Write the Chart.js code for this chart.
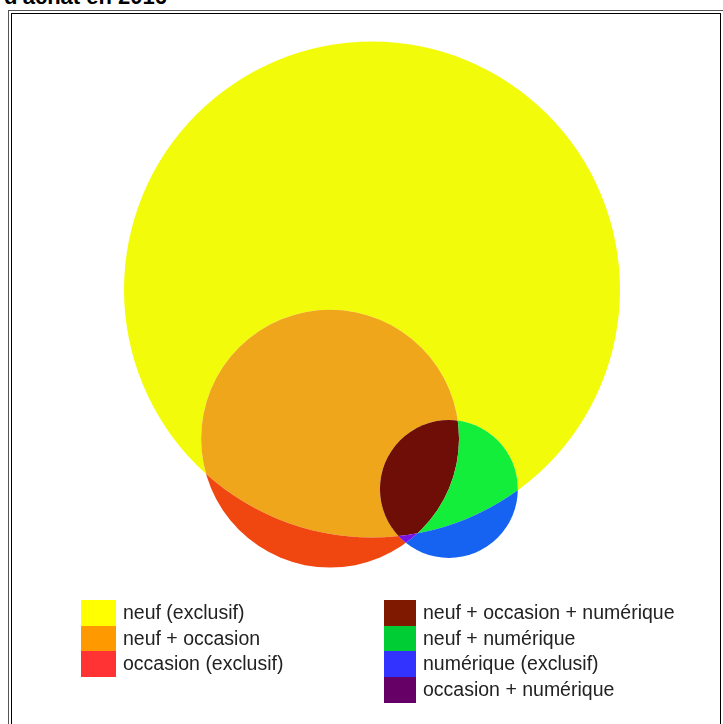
<!DOCTYPE html>
<html>
<head>
<meta charset="utf-8">
<script src="https://cdn.jsdelivr.net/npm/chart.js@4"></script>
<style>
  body { margin: 0; width: 723px; height: 724px; overflow: hidden; background: #fff; position: relative; font-family: "Liberation Sans", Arial, sans-serif; }
  #title { position: absolute; left: 4px; top: -14px; font-weight: bold; font-size: 22px; line-height: 22px; color: #000; white-space: nowrap; }
  #frame1 { position: absolute; left: 8px; top: 10px; width: 716px; height: 720px; border: 1px solid #555; }
  #frame2 { position: absolute; left: 11px; top: 13px; width: 708px; height: 720px; border: 1px solid #000; }
  #wrap { position: absolute; left: 0; top: -8px; width: 744px; height: 744px; }
  .leg { position: absolute; font-size: 19.5px; color: #222; }
  .leg div { height: 25.7px; line-height: 25.7px; white-space: nowrap; }
  .leg span { display: inline-block; height: 25.7px; vertical-align: top; margin-right: 7px; }
  #leg1 span { width: 35px; }
  #leg2 span { width: 32px; }
</style>
</head>
<body>
<div id="title">d'achat en 2016</div>
<div id="frame1"></div>
<div id="frame2"></div>
<div id="wrap"><canvas id="venn"></canvas></div>
<div class="leg" id="leg1" style="left:81px; top:600px;"></div>
<div class="leg" id="leg2" style="left:384px; top:600px;"></div>
<script>
// the three sets: centre and radius in chart units (neuf radius = 100)
let setNames = ['neuf', 'occasion', 'numérique']
let centerX = [0, -16.9, 31.0]
let centerY = [0, -60.1, -80.4]
let setRadius = [100, 52, 27.8]

// the seven regions: which sets they are in (1) or out of (0)
let regionLabels = ['neuf (exclusif)', 'neuf + occasion', 'occasion (exclusif)',
    'neuf + occasion + numérique', 'neuf + numérique', 'numérique (exclusif)', 'occasion + numérique']
let regionMembers = [[1,0,0], [1,1,0], [0,1,0], [1,1,1], [1,0,1], [0,0,1], [0,1,1]]
let regionFill = ['#f2fc0a', '#f0a61a', '#f0460f', '#6e0e06', '#12ee3a', '#1663f2', '#7614e6']
let legendColors = ['#ffff00', '#ff9900', '#ff3333', '#7f1a00', '#00cc33', '#3333ff', '#660066']
let legendColumn = [0, 0, 0, 1, 1, 1, 1]

// radius in pixels
function pxRadius(chart, i) {
    let xs = chart.scales.x
    return Math.abs(xs.getPixelForValue(centerX[i] + setRadius[i]) - xs.getPixelForValue(centerX[i]))
}

// draws each region by clipping inside / outside of the circles
let vennRegions = {
    id: 'vennRegions',
    afterDatasetsDraw(chart) {
        let ctx = chart.ctx
        let pts = chart.getDatasetMeta(0).data
        let area = chart.chartArea
        regionMembers.forEach(function(members, r) {
            ctx.save()
            members.forEach(function(inside, i) {
                let rad = pxRadius(chart, i)
                ctx.beginPath()
                if (inside) {
                    ctx.arc(pts[i].x, pts[i].y, rad, 0, Math.PI * 2)
                    ctx.clip()
                } else {
                    ctx.rect(area.left, area.top, area.right - area.left, area.bottom - area.top)
                    ctx.arc(pts[i].x, pts[i].y, rad, 0, Math.PI * 2, true)
                    ctx.clip('evenodd')
                }
            })
            ctx.fillStyle = regionFill[r]
            ctx.fillRect(area.left, area.top, area.right - area.left, area.bottom - area.top)
            ctx.restore()
        })
    }
}

let vennChart = new Chart(document.getElementById('venn'), {
    type: 'bubble',
    data: {
        labels: setNames,
        datasets: [{
            data: setNames.map((n, i) => ({x: centerX[i], y: centerY[i], r: setRadius[i]})),
            backgroundColor: 'rgba(0,0,0,0)',
            borderWidth: 0,
            radius: ctx => pxRadius(ctx.chart, ctx.dataIndex)
        }]
    },
    options: {
        responsive: true,
        maintainAspectRatio: false,
        animation: false,
        layout: { padding: 0, autoPadding: false },
        plugins: { legend: { display: false }, tooltip: { enabled: false } },
        scales: {
            x: { type: 'linear', min: -150, max: 150, display: false },
            y: { type: 'linear', min: -180, max: 120, display: false }
        }
    },
    plugins: [vennRegions]
})

// legend in two columns
regionLabels.forEach(function(label, i) {
    let row = document.createElement('div')
    row.innerHTML = '<span style="background:' + legendColors[i] + '"></span>' + label
    document.getElementById(legendColumn[i] ? 'leg2' : 'leg1').appendChild(row)
})
</script>
</body>
</html>
